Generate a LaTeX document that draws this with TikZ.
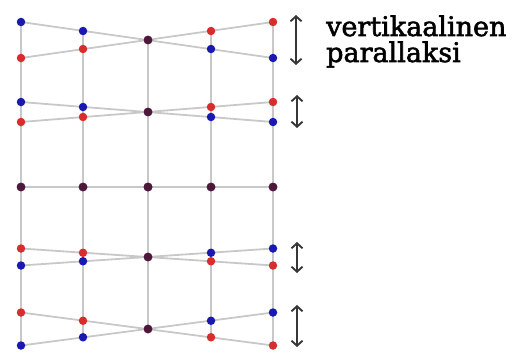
\documentclass[tikz,border=0pt]{standalone}
\usepackage{fontspec}
\newfontfamily\labelfont{DejaVu Serif}[FakeBold=2]
\usepackage{xcolor}
\usetikzlibrary{arrows.meta}
\definecolor{parblue}{RGB}{25,25,175}
\definecolor{parred}{RGB}{215,45,45}
\definecolor{parmix}{RGB}{75,25,60}
\definecolor{gridgray}{RGB}{200,200,200}
\definecolor{arrowgray}{RGB}{55,55,55}
\tikzset{
  pdot/.style={circle, inner sep=0pt, minimum size=8.5pt},
  bdot/.style={pdot, fill=parblue},
  rdot/.style={pdot, fill=parred},
  mdot/.style={pdot, fill=parmix},
  gridline/.style={draw=gridgray, line width=1.8pt},
  parallax/.style={draw=arrowgray, line width=1.9pt,
    {Straight Barb[length=5pt,width=11pt]}-{Straight Barb[length=5pt,width=11pt]}}
}

\begin{document}
\begin{tikzpicture}[x=1pt, y=-1pt]
    \useasboundingbox (0,0) rectangle (516,353);
    % Grid points (blue and red views)
    \foreach \r/\yc/\d in {1/40/18, 2/112/10, 3/187/0, 4/257/-8.5, 5/329/-16.5}
      \foreach \c/\x in {1/21, 2/83, 3/148, 4/211, 5/273} {
        \coordinate (b\r-\c) at ({\x}, {\yc+\d*(\c-3)/2});
        \coordinate (r\r-\c) at ({\x}, {\yc-\d*(\c-3)/2});
      }
    % Rows
    \foreach \r in {1,...,5} {
      \draw[gridline] (b\r-1) -- (b\r-5);
      \draw[gridline] (r\r-1) -- (r\r-5);
    }
    % Columns
    \foreach \c in {1,...,5} {
      \draw[gridline] (b1-\c) -- (b5-\c);
      \draw[gridline] (r1-\c) -- (r5-\c);
    }
    % Dots
    \foreach \r in {1,...,5}
      \foreach \c in {1,...,5} {
        \node[bdot] (B\r-\c) at (b\r-\c) {};
        \node[rdot] (R\r-\c) at (r\r-\c) {};
      }
    \foreach \i in {1,...,5} {
      \node[mdot] (M\i-3) at (b\i-3) {};
      \node[mdot] (M3-\i) at (b3-\i) {};
    }
    % Parallax arrows
    \coordinate (a1t) at (296,15);  \coordinate (a1b) at (296,65);
    \coordinate (a2t) at (297,95);  \coordinate (a2b) at (297,128);
    \coordinate (a4t) at (297,242); \coordinate (a4b) at (297,273);
    \coordinate (a5t) at (297,305); \coordinate (a5b) at (297,347);
    \foreach \a in {1,2,4,5}
      \draw[parallax] (a\a t) -- (a\a b);
    % Label
    \node[anchor=base west, inner sep=0pt, align=left,
      font=\labelfont\fontsize{27}{26}\selectfont] (label) at (326,62)
      {vertikaalinen\\parallaksi};
\end{tikzpicture}
\end{document}
